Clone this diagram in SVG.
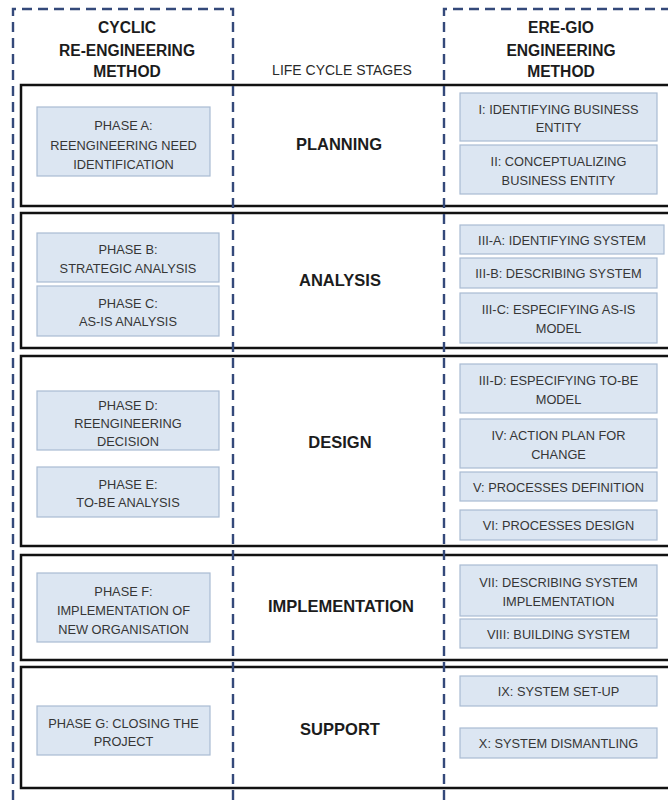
<svg xmlns="http://www.w3.org/2000/svg" width="668" height="800" viewBox="0 0 668 800">
  <style>
    .row { fill: none; stroke: #111; stroke-width: 2.5; }
    .col { fill: none; stroke: #34497a; stroke-width: 2.4; stroke-dasharray: 10 6; }
    .box { fill: #dce6f2; stroke: #a9bbd2; stroke-width: 1.2; }
    .bt { font-family: "Liberation Sans", Arial, sans-serif; font-size: 12.8px; fill: #363636; text-anchor: middle; }
    .hd { font-family: "Liberation Sans", Arial, sans-serif; font-size: 15.6px; font-weight: bold; fill: #1c1c1c; text-anchor: middle; }
    .st { font-family: "Liberation Sans", Arial, sans-serif; font-size: 16.5px; font-weight: bold; fill: #1c1c1c; text-anchor: middle; }
    .lc { font-family: "Liberation Sans", Arial, sans-serif; font-size: 14px; fill: #2a2a2a; text-anchor: middle; }
  </style>
  <rect width="668" height="800" fill="#ffffff"/>

  <!-- life cycle stage bands -->
  <g id="stages">
    <rect class="row" x="21" y="85" width="660" height="121"/>
    <rect class="row" x="21" y="213" width="660" height="135"/>
    <rect class="row" x="21" y="356" width="660" height="190"/>
    <rect class="row" x="21" y="555" width="660" height="105"/>
    <rect class="row" x="21" y="667" width="660" height="121"/>
  </g>

  <!-- method columns -->
  <g id="columns">
    <path class="col" d="M13,800 V9 H233 V800"/>
    <path class="col" d="M444,800 V9 H668"/>
  </g>

  <!-- column headings -->
  <g id="heading-cyclic">
    <text class="hd" x="127" y="33">CYCLIC</text>
    <text class="hd" x="127" y="56">RE-ENGINEERING</text>
    <text class="hd" x="127" y="77">METHOD</text>
  </g>
  <g id="heading-stages">
    <text class="lc" x="342" y="75">LIFE CYCLE STAGES</text>
  </g>
  <g id="heading-eregio">
    <text class="hd" x="561" y="33">ERE-GIO</text>
    <text class="hd" x="561" y="56">ENGINEERING</text>
    <text class="hd" x="561" y="77">METHOD</text>
  </g>

  <!-- stage labels -->
  <g id="stage-planning"><text class="st" x="339" y="150">PLANNING</text></g>
  <g id="stage-analysis"><text class="st" x="340" y="286">ANALYSIS</text></g>
  <g id="stage-design"><text class="st" x="340" y="448">DESIGN</text></g>
  <g id="stage-implementation"><text class="st" x="341" y="612">IMPLEMENTATION</text></g>
  <g id="stage-support"><text class="st" x="340" y="735">SUPPORT</text></g>

  <!-- cyclic re-engineering phases -->
  <g id="phase-a">
    <rect class="box" x="37" y="107" width="173" height="69"/>
    <text class="bt" x="123.5" y="130">PHASE A:</text>
    <text class="bt" x="123.5" y="149.5">REENGINEERING NEED</text>
    <text class="bt" x="123.5" y="168.5">IDENTIFICATION</text>
  </g>
  <g id="phase-b">
    <rect class="box" x="37" y="233" width="182" height="49"/>
    <text class="bt" x="128" y="254">PHASE B:</text>
    <text class="bt" x="128" y="272.5">STRATEGIC ANALYSIS</text>
  </g>
  <g id="phase-c">
    <rect class="box" x="37" y="286" width="182" height="50"/>
    <text class="bt" x="128" y="307.5">PHASE C:</text>
    <text class="bt" x="128" y="326">AS-IS  ANALYSIS</text>
  </g>
  <g id="phase-d">
    <rect class="box" x="37" y="391" width="182" height="59"/>
    <text class="bt" x="128" y="409.5">PHASE D:</text>
    <text class="bt" x="128" y="427.5">REENGINEERING</text>
    <text class="bt" x="128" y="445.5">DECISION</text>
  </g>
  <g id="phase-e">
    <rect class="box" x="37" y="467" width="182" height="50"/>
    <text class="bt" x="128" y="488.5">PHASE E:</text>
    <text class="bt" x="128" y="507">TO-BE ANALYSIS</text>
  </g>
  <g id="phase-f">
    <rect class="box" x="37" y="573" width="173" height="69"/>
    <text class="bt" x="123.5" y="595.5">PHASE F:</text>
    <text class="bt" x="123.5" y="615">IMPLEMENTATION OF</text>
    <text class="bt" x="123.5" y="633.5">NEW ORGANISATION</text>
  </g>
  <g id="phase-g">
    <rect class="box" x="37" y="706" width="173" height="49"/>
    <text class="bt" x="123.5" y="727.5">PHASE G: CLOSING THE</text>
    <text class="bt" x="123.5" y="746">PROJECT</text>
  </g>

  <!-- ERE-GIO engineering steps -->
  <g id="step-1">
    <rect class="box" x="460" y="93" width="197" height="48"/>
    <text class="bt" x="558.5" y="113.5">I: IDENTIFYING BUSINESS</text>
    <text class="bt" x="558.5" y="132">ENTITY</text>
  </g>
  <g id="step-2">
    <rect class="box" x="460" y="145" width="197" height="49"/>
    <text class="bt" x="558.5" y="166">II: CONCEPTUALIZING</text>
    <text class="bt" x="558.5" y="184.5">BUSINESS ENTITY</text>
  </g>
  <g id="step-3a">
    <rect class="box" x="460" y="225" width="204" height="29"/>
    <text class="bt" x="562" y="244.5">III-A: IDENTIFYING SYSTEM</text>
  </g>
  <g id="step-3b">
    <rect class="box" x="460" y="258" width="197" height="30"/>
    <text class="bt" x="558.5" y="278">III-B: DESCRIBING SYSTEM</text>
  </g>
  <g id="step-3c">
    <rect class="box" x="460" y="293" width="197" height="50"/>
    <text class="bt" x="558.5" y="314">III-C: ESPECIFYING AS-IS</text>
    <text class="bt" x="558.5" y="332.5">MODEL</text>
  </g>
  <g id="step-3d">
    <rect class="box" x="460" y="364" width="197" height="49"/>
    <text class="bt" x="558.5" y="385">III-D: ESPECIFYING TO-BE</text>
    <text class="bt" x="558.5" y="403.5">MODEL</text>
  </g>
  <g id="step-4">
    <rect class="box" x="460" y="419" width="197" height="49"/>
    <text class="bt" x="558.5" y="440">IV: ACTION PLAN FOR</text>
    <text class="bt" x="558.5" y="458.5">CHANGE</text>
  </g>
  <g id="step-5">
    <rect class="box" x="460" y="472" width="197" height="29"/>
    <text class="bt" x="558.5" y="491.5">V: PROCESSES DEFINITION</text>
  </g>
  <g id="step-6">
    <rect class="box" x="460" y="510" width="197" height="30"/>
    <text class="bt" x="558.5" y="530">VI: PROCESSES DESIGN</text>
  </g>
  <g id="step-7">
    <rect class="box" x="460" y="565" width="197" height="51"/>
    <text class="bt" x="558.5" y="587">VII: DESCRIBING SYSTEM</text>
    <text class="bt" x="558.5" y="605.5">IMPLEMENTATION</text>
  </g>
  <g id="step-8">
    <rect class="box" x="460" y="619" width="197" height="29"/>
    <text class="bt" x="558.5" y="638.5">VIII: BUILDING SYSTEM</text>
  </g>
  <g id="step-9">
    <rect class="box" x="460" y="676" width="197" height="30"/>
    <text class="bt" x="558.5" y="696">IX: SYSTEM SET-UP</text>
  </g>
  <g id="step-10">
    <rect class="box" x="460" y="728" width="197" height="30"/>
    <text class="bt" x="558.5" y="748">X: SYSTEM DISMANTLING</text>
  </g>
</svg>
